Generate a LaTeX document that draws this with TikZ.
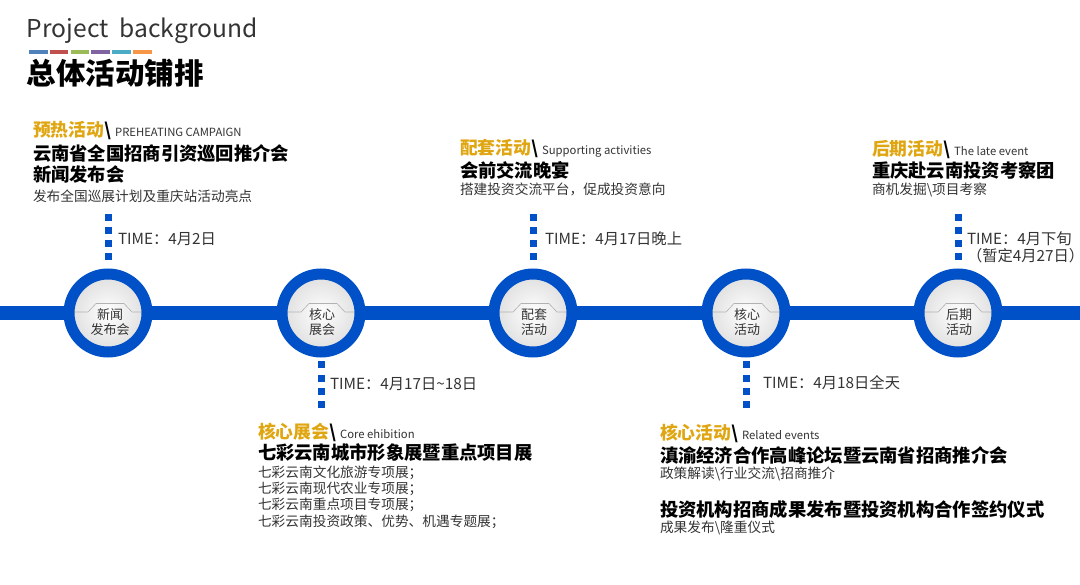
\documentclass[tikz,border=0pt]{standalone}
\usepackage{fontspec}
\setmainfont{Noto Sans CJK SC}
\definecolor{lineblue}{RGB}{0,80,200}
\definecolor{headgold}{RGB}{224,166,18}
\definecolor{textgray}{RGB}{51,51,51}
\definecolor{barA}{RGB}{79,129,189}
\definecolor{barB}{RGB}{192,80,77}
\definecolor{barC}{RGB}{155,187,89}
\definecolor{barD}{RGB}{128,100,162}
\definecolor{barE}{RGB}{75,172,198}
\definecolor{barF}{RGB}{247,150,70}
\begin{document}
\begin{tikzpicture}[x=1pt,y=-1pt,
    every node/.style={inner sep=0pt, outer sep=0pt},
    timeline/.style={draw=lineblue, line width=14pt},
    ring/.style={circle, draw=lineblue, line width=11pt, minimum size=78pt,
        inner color=white, outer color=black!13},
    ringtxt/.style={align=center, text=textgray, font=\fontsize{13}{15.5}\selectfont},
    tab/.style={draw=black!30, line width=0.6pt},
    dots/.style={draw=lineblue, line width=7pt, dash pattern=on 7pt off 6.3pt},
    timetxt/.style={anchor=west, align=left, text=textgray, font=\fontsize{15.3}{17}\selectfont},
    head/.style={anchor=west, font=\fontsize{17.8}{20}\selectfont\bfseries},
    entxt/.style={font=\fontsize{11.3}{12}\selectfont},
    ttl/.style={anchor=west, align=left, font=\fontsize{18.3}{21}\selectfont\bfseries},
    desc/.style={anchor=west, align=left, text=textgray, font=\fontsize{13.7}{16.3}\selectfont}]
    \useasboundingbox (0,0) rectangle (1080,585);

    % Title
    \node[anchor=west, text=textgray, font=\fontsize{24.6}{28}\selectfont] (ptitle) at (27,31) {Project\ \ background};
    \fill[barA] (29,50) rectangle (47.5,54);
    \fill[barB] (49.8,50) rectangle (68.3,54);
    \fill[barC] (70.6,50) rectangle (89.1,54);
    \fill[barD] (91.4,50) rectangle (109.9,54);
    \fill[barE] (112.2,50) rectangle (130.7,54);
    \fill[barF] (133,50) rectangle (151.5,54);
    \node[anchor=west, font=\fontsize{29.5}{34}\selectfont\bfseries] (mtitle) at (27,73) {总体活动铺排};

    % Timeline
    \coordinate (ls) at (0,313);
    \coordinate (le) at (1080,313);
    \draw[timeline] (ls) -- (le);

    % Stations
    \node[ring] (c1) at (108,313) {};
    \node[ring] (c2) at (321,313) {};
    \node[ring] (c3) at (533,313) {};
    \node[ring] (c4) at (746,313) {};
    \node[ring] (c5) at (958,313) {};
    \draw[tab, shift={(c1)}] (-33,-1) -- (-20,-1) -- (-12,-9.5) -- (16,-9.5) -- (24,-1) -- (33,-1);
    \draw[tab, shift={(c2)}] (-33,-1) -- (-20,-1) -- (-12,-9.5) -- (16,-9.5) -- (24,-1) -- (33,-1);
    \draw[tab, shift={(c3)}] (-33,-1) -- (-20,-1) -- (-12,-9.5) -- (16,-9.5) -- (24,-1) -- (33,-1);
    \draw[tab, shift={(c4)}] (-33,-1) -- (-20,-1) -- (-12,-9.5) -- (16,-9.5) -- (24,-1) -- (33,-1);
    \draw[tab, shift={(c5)}] (-33,-1) -- (-20,-1) -- (-12,-9.5) -- (16,-9.5) -- (24,-1) -- (33,-1);
    \node[ringtxt] (r1) at (110,322) {新闻\\发布会};
    \node[ringtxt] (r2) at (322,322) {核心\\展会};
    \node[ringtxt] (r3) at (534,322) {配套\\活动};
    \node[ringtxt] (r4) at (747,322) {核心\\活动};
    \node[ringtxt] (r5) at (959,322) {后期\\活动};

    % Dotted leaders
    \draw[dots] ([yshift=13.5pt]c1.north) -- ++(0,-46);
    \draw[dots] ([yshift=-9.5pt]c2.south) -- ++(0,47);
    \draw[dots] ([yshift=13.5pt]c3.north) -- ++(0,-46);
    \draw[dots] ([yshift=-9.5pt]c4.south) -- ++(0,47);
    \draw[dots] ([yshift=13.5pt]c5.north) -- ++(0,-46);

    % Times
    \node[timetxt] (tm1) at (118,239) {TIME：4月2日};
    \node[timetxt] (tm2) at (330,384) {TIME：4月17日\textasciitilde 18日};
    \node[timetxt] (tm3) at (545,239) {TIME：4月17日晚上};
    \node[timetxt] (tm4) at (763,383) {TIME：4月18日全天};
    \node[timetxt] (tm5) at (967,247.5) {TIME：4月下旬\\（暂定4月27日）};

    % Preheating
    \node[head] (h1) at (33,131) {{\color{headgold}预热活动}\textbackslash\ {\mdseries\fontsize{11.3}{12}\selectfont\color{textgray}PREHEATING CAMPAIGN}};
    \node[ttl] (t1) at (33,163.5) {云南省全国招商引资巡回推介会\\新闻发布会};
    \node[desc] (d1) at (33,196) {发布全国巡展计划及重庆站活动亮点};

    % Supporting
    \node[head] (h3) at (460,149) {{\color{headgold}配套活动}\textbackslash\ {\mdseries\fontsize{11.3}{12}\selectfont\color{textgray}Supporting activities}};
    \node[ttl] (t3) at (460,170) {会前交流晚宴};
    \node[desc] (d3) at (460,189) {搭建投资交流平台，促成投资意向};

    % Late event
    \node[head] (h5) at (872,150) {{\color{headgold}后期活动}\textbackslash\ {\mdseries\fontsize{11.3}{12}\selectfont\color{textgray}The late event}};
    \node[ttl] (t5) at (872,171) {重庆赴云南投资考察团};
    \node[desc] (d5) at (872,190) {商机发掘\textbackslash 项目考察};

    % Core exhibition
    \node[head] (h2) at (258,432) {{\color{headgold}核心展会}\textbackslash\ {\mdseries\fontsize{11.3}{12}\selectfont\color{textgray}Core ehibition}};
    \node[ttl] (t2) at (258,453) {七彩云南城市形象展暨重点项目展};
    \node[desc] (d2) at (258,497) {七彩云南文化旅游专项展；\\七彩云南现代农业专项展；\\七彩云南重点项目专项展；\\七彩云南投资政策、优势、机遇专题展；};

    % Related events
    \node[head] (h4) at (660,433) {{\color{headgold}核心活动}\textbackslash\ {\mdseries\fontsize{11.3}{12}\selectfont\color{textgray}Related events}};
    \node[ttl] (t4) at (660,455) {滇渝经济合作高峰论坛暨云南省招商推介会};
    \node[desc] (d4) at (660,474) {政策解读\textbackslash 行业交流\textbackslash 招商推介};
    \node[ttl] (t6) at (660,510) {投资机构招商成果发布暨投资机构合作签约仪式};
    \node[desc] (d6) at (660,528) {成果发布\textbackslash 隆重仪式};
\end{tikzpicture}
\end{document}
